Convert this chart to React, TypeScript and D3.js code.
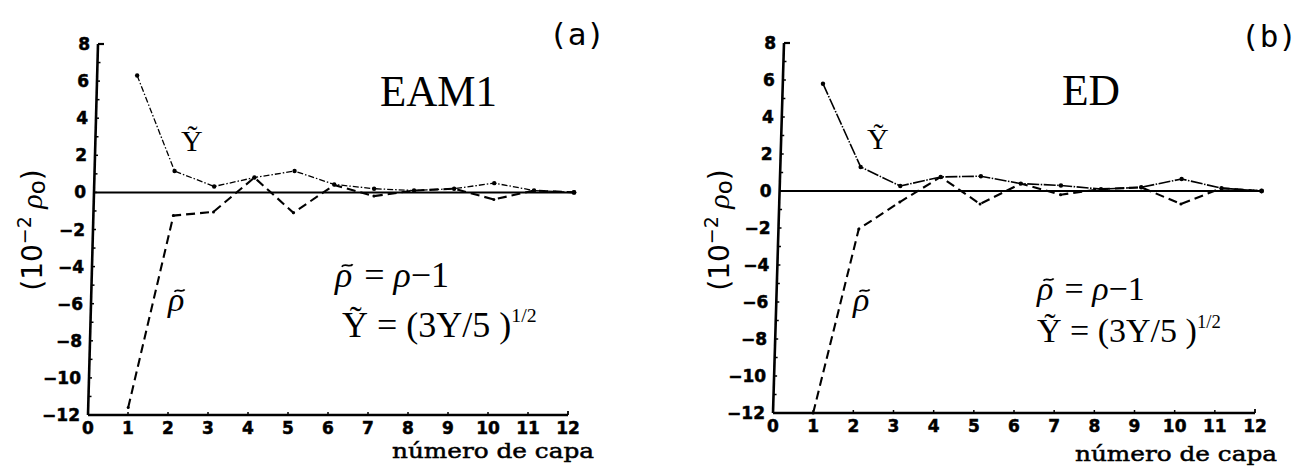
import React from "react";
import * as d3 from "d3";

// Layer index (x) and tick values
const layers = [1, 2, 3, 4, 5, 6, 7, 8, 9, 10, 11, 12];
const xTickValues = [0, 1, 2, 3, 4, 5, 6, 7, 8, 9, 10, 11, 12];
const yTickValues = [8, 6, 4, 2, 0, -2, -4, -6, -8, -10, -12];

// Panel (a): EAM1, values in units of 10^-2 rho_o
const yTildeEAM1 = [6.3, 1.15, 0.32, 0.8, 1.15, 0.43, 0.2, 0.1, 0.2, 0.5, 0.1, 0.0];
const rhoTildeEAM1 = [-11.6, -1.25, -1.05, 0.8, -1.1, 0.4, -0.2, 0.1, 0.2, -0.38, 0.1, 0.0];

// Panel (b): ED
const yTildeED = [5.8, 1.3, 0.27, 0.76, 0.8, 0.4, 0.3, 0.1, 0.2, 0.65, 0.15, 0.0];
const rhoTildeED = [-12.0, -2.05, -0.6, 0.76, -0.7, 0.4, -0.2, 0.1, 0.2, -0.7, 0.15, 0.0];

const W = 1300;
const H = 469;

type Spec = {
  x0: number; // pixel of layer 0 on the bottom axis
  x12: number; // pixel of layer 12
  yTop: number; // pixel of value 8
  yBot: number; // pixel of value -12
  k: number; // slight lean of the frame
  tag: string;
  tagX: number;
  tagY: number;
  title: string;
  titleX: number;
  titleY: number;
  titleLen: number;
  yLabX: number;
  yTilX: number;
  yTilY: number;
  rhoX: number;
  rhoY: number;
  f1X: number;
  f1Y: number;
  f2X: number;
  f2Y: number;
  fSize: number;
  capX: number;
  capY: number;
  yDash: string;
  yWidth: number;
};

const specA: Spec = {
  x0: 88, x12: 568, yTop: 44, yBot: 415, k: 10 / 371,
  tag: "(a)", tagX: 577, tagY: 45,
  title: "EAM1", titleX: 380, titleY: 106, titleLen: 117,
  yLabX: 42,
  yTilX: 181, yTilY: 151,
  rhoX: 168, rhoY: 311,
  f1X: 335, f1Y: 287, f2X: 342, f2Y: 337, fSize: 36,
  capX: 392, capY: 458,
  yDash: "6 2 1.5 2", yWidth: 1.3,
};

const specB: Spec = {
  x0: 773, x12: 1255, yTop: 43, yBot: 413, k: 11 / 370,
  tag: "(b)", tagX: 1269, tagY: 47,
  title: "ED", titleX: 1062, titleY: 105, titleLen: 58,
  yLabX: 729,
  yTilX: 867, yTilY: 149,
  rhoX: 853, rhoY: 311,
  f1X: 1037, f1Y: 300, f2X: 1037, f2Y: 342, fSize: 34,
  capX: 1075, capY: 461,
  yDash: "12 1.5 1.5 1.5", yWidth: 1.6,
};

const tickFont = "'DejaVu Sans', sans-serif";
const serif = "'Liberation Serif', 'Times New Roman', serif";

// Italic rho with a tilde stroke drawn above it
function RhoTilde({ x, y, size }: { x: number; y: number; size: number }) {
  const cx = x + size * 0.34;
  const ty = y - size * 0.6;
  const w = size * 0.3;
  const a = size * 0.035;
  return (
    <g>
      <text x={x} y={y} fontFamily={serif} fontStyle="italic" fontSize={size}>
        ρ
      </text>
      <path
        d={`M ${cx - w / 2} ${ty + a} C ${cx - w / 4} ${ty - 2.2 * a}, ${cx + w / 4} ${ty + 2.2 * a}, ${cx + w / 2} ${ty - a}`}
        fill="none"
        stroke="#000"
        strokeWidth={size * 0.05}
      />
    </g>
  );
}

function Panel({ spec, yTilde, rhoTilde }: { spec: Spec; yTilde: number[]; rhoTilde: number[] }) {
  const x = d3.scaleLinear().domain([0, 12]).range([spec.x0, spec.x12]);
  const y = d3.scaleLinear().domain([-12, 8]).range([spec.yBot, spec.yTop]);
  const sk = (px: number, py: number) => px + spec.k * (spec.yBot - py);
  const X = (lx: number, v: number) => sk(x(lx), y(v));

  const line = d3
    .line<number>()
    .x((d, i) => X(layers[i], d))
    .y((d) => y(d));

  const minorY = y.ticks(20);
  const fs = spec.fSize;
  const rhoW = fs * 0.56;

  return (
    <g>
      {/* frame: left and bottom axes */}
      <line x1={X(0, -12)} y1={y(-12)} x2={X(0, 8)} y2={y(8)} stroke="#000" strokeWidth={2.6} />
      <line x1={X(0, 8)} y1={y(8)} x2={X(0, 8) + 6} y2={y(8)} stroke="#000" strokeWidth={2.2} />
      <line x1={X(0, -12)} y1={y(-12)} x2={X(12, -12)} y2={y(-12)} stroke="#000" strokeWidth={2.4} />
      <line x1={X(12, -12)} y1={y(-12)} x2={X(12, -12)} y2={y(-12) - 4} stroke="#000" strokeWidth={1.8} />
      {minorY.map((v) => (
        <line key={"my" + v} x1={X(0, v)} y1={y(v)} x2={X(0, v) + 3} y2={y(v)} stroke="#000" strokeWidth={1.5} />
      ))}
      {xTickValues.slice(1, 12).map((v) => (
        <line key={"mx" + v} x1={X(v, -12)} y1={y(-12)} x2={X(v, -12)} y2={y(-12) - 3} stroke="#000" strokeWidth={1.5} />
      ))}

      {/* tick labels */}
      {yTickValues.map((v) => (
        <text
          key={"ty" + v}
          x={X(0, v) - 8}
          y={y(v) + 6}
          textAnchor="end"
          fontFamily={tickFont}
          fontWeight={700}
          fontSize={17}
          stroke="#000"
          strokeWidth={0.5}
        >
          {v < 0 ? "\u2212" + Math.abs(v) : String(v)}
        </text>
      ))}
      {xTickValues.map((v) => (
        <text
          key={"tx" + v}
          x={X(v, -12)}
          y={y(-12) + 19}
          textAnchor="middle"
          fontFamily={tickFont}
          fontWeight={700}
          fontSize={17}
          stroke="#000"
          strokeWidth={0.5}
        >
          {v}
        </text>
      ))}

      {/* zero reference line */}
      <line x1={X(0, 0)} y1={y(0)} x2={X(12, 0)} y2={y(0)} stroke="#000" strokeWidth={2} />
      <circle cx={X(12, 0)} cy={y(0)} r={2.4} fill="#000" />

      {/* series */}
      <path d={line(rhoTilde) || ""} fill="none" stroke="#000" strokeWidth={2.1} strokeDasharray="9 5" />
      <path d={line(yTilde) || ""} fill="none" stroke="#000" strokeWidth={spec.yWidth} strokeDasharray={spec.yDash} />
      {yTilde.map((v, i) => (
        <circle key={"py" + i} cx={X(layers[i], v)} cy={y(v)} r={2.2} fill="#000" />
      ))}
      {rhoTilde.map((v, i) => (
        <circle key={"pr" + i} cx={X(layers[i], v)} cy={y(v)} r={1.5} fill="#000" />
      ))}

      {/* axis titles */}
      <text
        transform={`translate(${spec.yLabX},230) rotate(-90)`}
        textAnchor="middle"
        fontFamily={tickFont}
        fontSize={28}
      >
        (10<tspan fontSize={19} dy={-11}>{"\u22122"}</tspan>
        <tspan dy={11} fontFamily={serif} fontStyle="italic" fontSize={30}> ρ</tspan>
        <tspan dy={3} fontSize={23}>o</tspan>
        <tspan dy={-3}>)</tspan>
      </text>
      <text
        x={spec.capX}
        y={spec.capY}
        fontFamily="'DejaVu Serif', serif"
        fontSize={21}
        textLength={202}
        lengthAdjust="spacingAndGlyphs"
        stroke="#000"
        strokeWidth={0.5}
      >
        número de capa
      </text>

      {/* panel tag and model name */}
      <text x={spec.tagX} y={spec.tagY} textAnchor="middle" fontFamily="'DejaVu Sans Mono', monospace" fontSize={31}>
        {spec.tag}
      </text>
      <text
        x={spec.titleX}
        y={spec.titleY}
        fontFamily={serif}
        fontSize={44}
        textLength={spec.titleLen}
        lengthAdjust="spacingAndGlyphs"
      >
        {spec.title}
      </text>

      {/* curve labels */}
      <text x={spec.yTilX} y={spec.yTilY} fontFamily={serif} fontSize={30}>
        Ỹ
      </text>
      <RhoTilde x={spec.rhoX} y={spec.rhoY} size={34} />

      {/* definitions */}
      <RhoTilde x={spec.f1X} y={spec.f1Y} size={fs} />
      <text x={spec.f1X + rhoW} y={spec.f1Y} fontFamily={serif} fontSize={fs}>
        {"\u00a0= "}
        <tspan fontStyle="italic">ρ</tspan>−1
      </text>
      <text x={spec.f2X} y={spec.f2Y} fontFamily={serif} fontSize={fs}>
        Ỹ = (3Y/5 )<tspan fontSize={fs * 0.55} dy={-fs * 0.42}>1/2</tspan>
      </text>
    </g>
  );
}

export default function App() {
  return (
    <svg
      width={W}
      height={H}
      viewBox={`0 0 ${W} ${H}`}
      style={{ position: "absolute", left: 0, top: 0, background: "#fff" }}
    >
      <rect width={W} height={H} fill="#fff" />
      <Panel spec={specA} yTilde={yTildeEAM1} rhoTilde={rhoTildeEAM1} />
      <Panel spec={specB} yTilde={yTildeED} rhoTilde={rhoTildeED} />
    </svg>
  );
}
